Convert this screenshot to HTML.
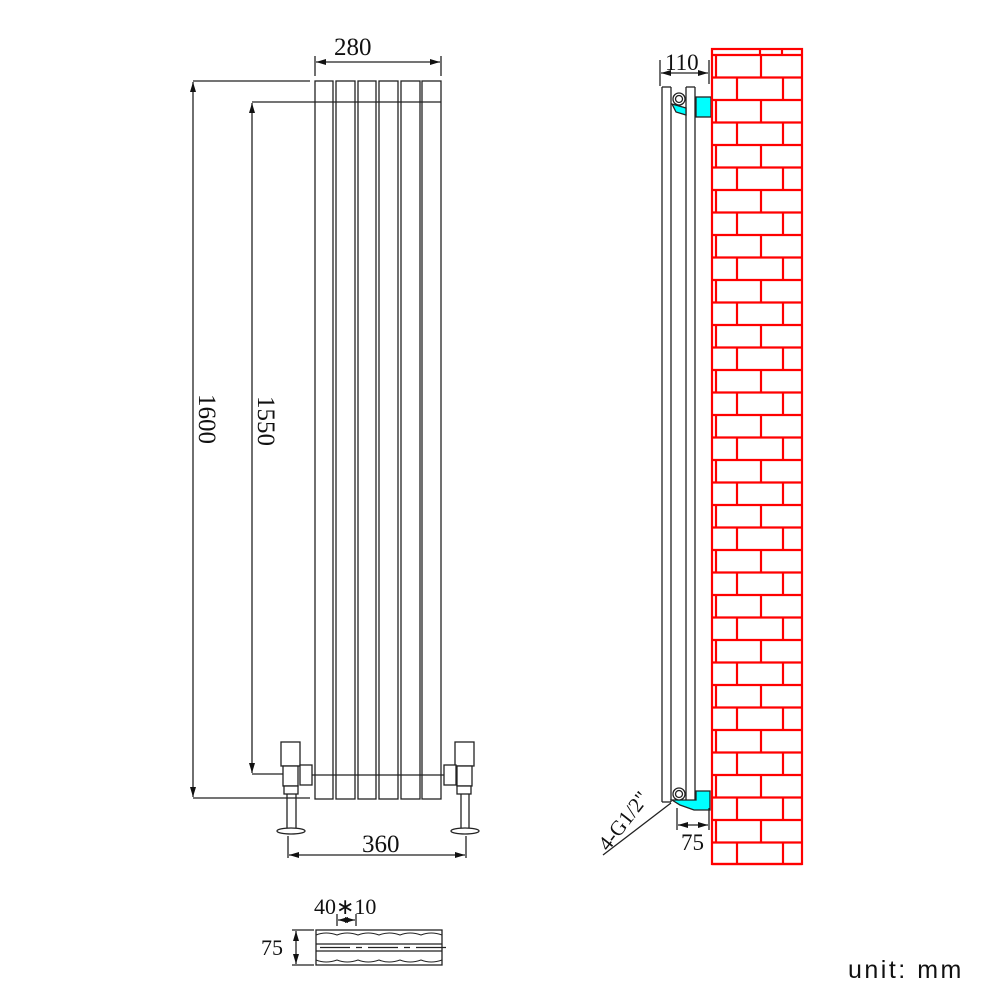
<!DOCTYPE html>
<html><head><style>body{margin:0;background:#fff}svg{display:block}text{font-family:"Liberation Serif",serif;fill:#111}</style></head><body>
<svg width="1001" height="1001" viewBox="0 0 1001 1001" xmlns="http://www.w3.org/2000/svg">
<defs><marker id="a" markerWidth="10" markerHeight="6" refX="10" refY="3" orient="auto-start-reverse" markerUnits="userSpaceOnUse"><path d="M0,0L10,3L0,6z" fill="#111"/></marker></defs>
<g stroke="#222" stroke-width="1.3" fill="none">
<rect x="315" y="81" width="18" height="718" fill="#fff"/>
<rect x="336" y="81" width="19" height="718" fill="#fff"/>
<rect x="358" y="81" width="18" height="718" fill="#fff"/>
<rect x="379" y="81" width="19" height="718" fill="#fff"/>
<rect x="401" y="81" width="19" height="718" fill="#fff"/>
<rect x="422" y="81" width="19" height="718" fill="#fff"/>
<line x1="310" y1="102" x2="441" y2="102"/>
<line x1="300" y1="775" x2="450" y2="775"/>
<line x1="315" y1="56" x2="315" y2="76"/><line x1="441" y1="56" x2="441" y2="76"/>
<line x1="316" y1="62" x2="440" y2="62" marker-start="url(#a)" marker-end="url(#a)"/>
<line x1="193" y1="81" x2="310" y2="81"/><line x1="193" y1="798" x2="310" y2="798"/>
<line x1="193" y1="82" x2="193" y2="797" marker-start="url(#a)" marker-end="url(#a)"/>
<line x1="252" y1="102" x2="310" y2="102"/><line x1="252" y1="774" x2="283" y2="774"/>
<line x1="252" y1="103" x2="252" y2="773" marker-start="url(#a)" marker-end="url(#a)"/>
<rect x="281" y="742" width="19" height="24" fill="#fff"/>
<rect x="283" y="766" width="15" height="20" fill="#fff"/>
<rect x="300" y="765" width="12" height="20" fill="#fff"/>
<rect x="284" y="786" width="14" height="8" fill="#fff"/>
<line x1="287" y1="794" x2="287" y2="828"/><line x1="296" y1="794" x2="296" y2="828"/>
<ellipse cx="291" cy="831" rx="14" ry="3" fill="#fff"/>
<rect x="455" y="742" width="19" height="24" fill="#fff"/>
<rect x="457" y="766" width="15" height="20" fill="#fff"/>
<rect x="444" y="765" width="12" height="20" fill="#fff"/>
<rect x="457" y="786" width="14" height="8" fill="#fff"/>
<line x1="461" y1="794" x2="461" y2="828"/><line x1="469" y1="794" x2="469" y2="828"/>
<ellipse cx="465" cy="831" rx="14" ry="3" fill="#fff"/>
<line x1="288" y1="836" x2="288" y2="858"/><line x1="466" y1="836" x2="466" y2="858"/>
<line x1="289" y1="855" x2="465" y2="855" marker-start="url(#a)" marker-end="url(#a)"/>
<line x1="662" y1="87" x2="662" y2="802"/><line x1="671" y1="87" x2="671" y2="802"/>
<line x1="686" y1="87" x2="686" y2="802"/><line x1="695" y1="87" x2="695" y2="802"/>
<line x1="662" y1="87" x2="671" y2="87"/><line x1="686" y1="87" x2="695" y2="87"/>
<line x1="662" y1="802" x2="671" y2="802"/><line x1="686" y1="802" x2="695" y2="802"/>
<rect x="696" y="97" width="15" height="20" fill="#0ff"/>
<path d="M672,104L686,108L686,115L676,112z" fill="#0ff"/>
<circle cx="679" cy="99" r="6" fill="#fff"/><circle cx="679" cy="99" r="3.5"/>
<path d="M672,800L696,800L696,791L710,791L710,810L694,810L680,805z" fill="#0ff"/>
<circle cx="679" cy="794" r="6" fill="#fff"/><circle cx="679" cy="794" r="3.5"/>
<line x1="660" y1="60" x2="660" y2="86"/><line x1="709" y1="60" x2="709" y2="84"/>
<line x1="661" y1="73" x2="708" y2="73" marker-start="url(#a)" marker-end="url(#a)"/>
<line x1="677" y1="808" x2="677" y2="830"/><line x1="709" y1="808" x2="709" y2="830"/>
<line x1="678" y1="825" x2="708" y2="825" marker-start="url(#a)" marker-end="url(#a)"/>
<line x1="603" y1="855" x2="671" y2="803"/>
<rect x="316" y="930" width="126" height="35"/>
<line x1="316" y1="944" x2="442" y2="944"/><line x1="316" y1="951" x2="442" y2="951"/>
<line x1="320" y1="947.5" x2="448" y2="947.5" stroke-dasharray="30,6,6,6"/>
<path d="M316,935q10,-4 21,0q10,-4 21,0q10,-4 21,0q10,-4 21,0q10,-4 21,0q10,-4 21,0M316,960q10,4 21,0q10,4 21,0q10,4 21,0q10,4 21,0q10,4 21,0q10,4 21,0" stroke-width="1"/>
<line x1="337" y1="914" x2="337" y2="926"/><line x1="356" y1="914" x2="356" y2="926"/>
<line x1="338" y1="920" x2="355" y2="920" marker-start="url(#a)" marker-end="url(#a)"/>
<line x1="292" y1="930" x2="314" y2="930"/><line x1="292" y1="965" x2="314" y2="965"/>
<line x1="296" y1="931" x2="296" y2="964" marker-start="url(#a)" marker-end="url(#a)"/>
</g>
<g stroke="#f00" stroke-width="2.2" fill="none" id="wall">
<rect x="712" y="49" width="90" height="815"/>
<line x1="712" y1="55" x2="802" y2="55"/>
<line x1="760" y1="49" x2="760" y2="55"/><line x1="782" y1="49" x2="782" y2="55"/>
</g>
<script>
var g=document.getElementById('wall'),ns='http://www.w3.org/2000/svg';
function L(a,b,c,d){var l=document.createElementNS(ns,'line');l.setAttribute('x1',a);l.setAttribute('y1',b);l.setAttribute('x2',c);l.setAttribute('y2',d);g.appendChild(l);}
for(var k=0;k<36;k++){var y0=55+k*22.5,y1=Math.min(y0+22.5,864);L(712,y1,802,y1);
if(k%2==0){L(716,y0,716,y1);L(761,y0,761,y1);}else{L(737,y0,737,y1);L(783,y0,783,y1);}}
</script>
<text x="334" y="55" font-size="25">280</text>
<text x="362" y="852" font-size="25">360</text>
<text transform="translate(199,394) rotate(90)" font-size="25">1600</text>
<text transform="translate(258,396) rotate(90)" font-size="25">1550</text>
<text x="665" y="70" font-size="23">110</text>
<text x="681" y="850" font-size="23">75</text>
<text transform="translate(608,852) rotate(-52)" font-size="21">4-G1/2"</text>
<text x="314" y="914" font-size="22">40∗10</text>
<text x="261" y="955" font-size="22">75</text>
<text x="848" y="978" font-size="25" letter-spacing="2.5" style="font-family:'Liberation Sans',sans-serif">unit: mm</text>
</svg>
</body></html>
